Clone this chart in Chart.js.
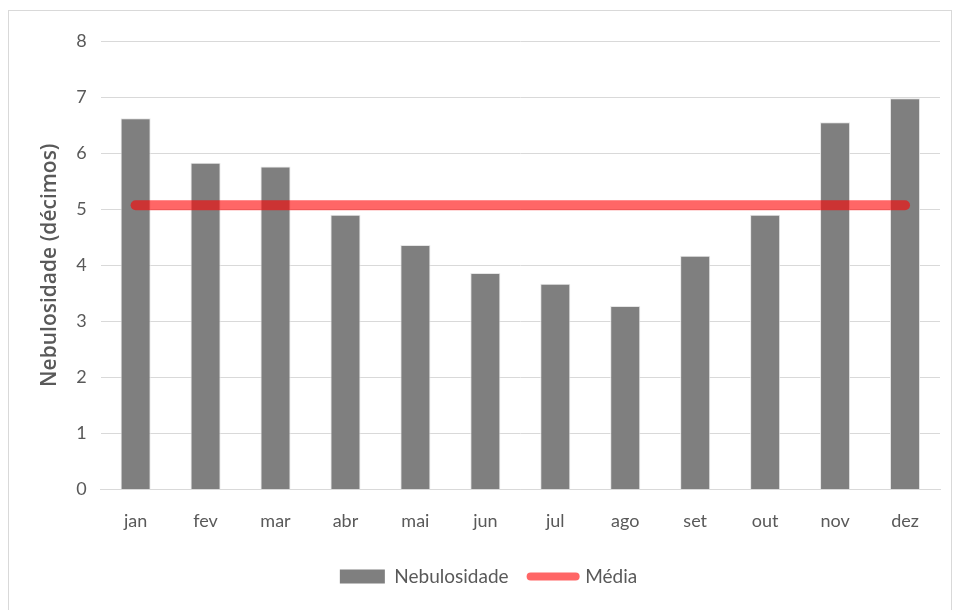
<!DOCTYPE html>
<html>
<head>
<meta charset="utf-8">
<script src="https://cdn.jsdelivr.net/npm/chart.js@4/dist/chart.umd.min.js"></script>
<style>
    html, body { margin: 0; padding: 0; background: #fff; }
    #frame { position: absolute; left: 8px; top: 10px; width: 942px; height: 606px; border: 1px solid #d9d9d9; }
    #wrap { position: absolute; left: 0; top: 0; width: 954px; height: 610px; }
</style>
</head>
<body>
<div id="frame"></div>
<div id="wrap"><canvas id="myChart"></canvas></div>
<script>
// Monthly cloud cover (tenths)
const months = ['jan', 'fev', 'mar', 'abr', 'mai', 'jun', 'jul', 'ago', 'set', 'out', 'nov', 'dez'];
const nebulosidade = [6.62, 5.83, 5.76, 4.90, 4.36, 3.86, 3.67, 3.27, 4.17, 4.90, 6.55, 6.98];
const media = [5.07, 5.07, 5.07, 5.07, 5.07, 5.07, 5.07, 5.07, 5.07, 5.07, 5.07, 5.07];
const yTicks = [0, 1, 2, 3, 4, 5, 6, 7, 8];

const textColor = '#595959';
const fontFamily = 'Lato, "Open Sans", sans-serif';

const ctx = document.getElementById('myChart').getContext('2d');

new Chart(ctx, {
    type: 'bar',
    data: {
        labels: months,
        datasets: [
            {
                type: 'line',
                label: 'Média',
                data: media,
                borderColor: 'rgba(255, 0, 0, 0.6)',
                backgroundColor: 'rgba(255, 0, 0, 0.6)',
                borderWidth: 10,
                borderCapStyle: 'round',
                pointRadius: 0,
                order: 0
            },
            {
                label: 'Nebulosidade',
                data: nebulosidade,
                backgroundColor: '#7f7f7f',
                borderColor: '#e6e6e6',
                borderWidth: 1,
                barPercentage: 0.86,
                categoryPercentage: 0.5,
                order: 1
            }
        ]
    },
    options: {
        responsive: true,
        maintainAspectRatio: false,
        animation: false,
        layout: {
            padding: { left: 37, right: 14, top: 41, bottom: 14 }
        },
        scales: {
            x: {
                grid: { display: false, drawTicks: false },
                border: { display: true, color: '#d9d9d9' },
                ticks: {
                    color: textColor,
                    padding: 21,
                    font: { family: fontFamily, size: 18 }
                },
                // pull the plot area down a bit, closer to the legend like the original
                afterFit: scale => {
                    scale.height -= 8;
                }
            },
            y: {
                min: yTicks[0],
                max: yTicks[yTicks.length - 1],
                afterBuildTicks: axis => {
                    axis.ticks = yTicks.map(v => ({ value: v }));
                },
                grid: { color: '#d9d9d9', drawTicks: false },
                border: { display: false },
                ticks: {
                    color: textColor,
                    padding: 14,
                    font: { family: fontFamily, size: 18 }
                },
                title: {
                    display: true,
                    text: 'Nebulosidade (décimos)',
                    color: textColor,
                    padding: 0,
                    font: { family: '"Open Sans", sans-serif', size: 21, weight: '600' }
                }
            }
        },
        plugins: {
            legend: {
                position: 'bottom',
                reverse: true,
                labels: {
                    color: textColor,
                    font: { family: fontFamily, size: 19 },
                    usePointStyle: true,
                    pointStyleWidth: 45,
                    boxHeight: 14,
                    padding: 22,
                    generateLabels: chart => {
                        const items = Chart.defaults.plugins.legend.labels.generateLabels(chart);
                        items.forEach(item => {
                            if (item.text === 'Média') {
                                item.pointStyle = 'line';
                                item.lineWidth = 8;
                                item.lineCap = 'round';
                            } else {
                                item.pointStyle = 'rect';
                                item.lineWidth = 0;
                            }
                        });
                        return items;
                    }
                }
            },
            tooltip: { enabled: false }
        }
    }
});
</script>
</body>
</html>
